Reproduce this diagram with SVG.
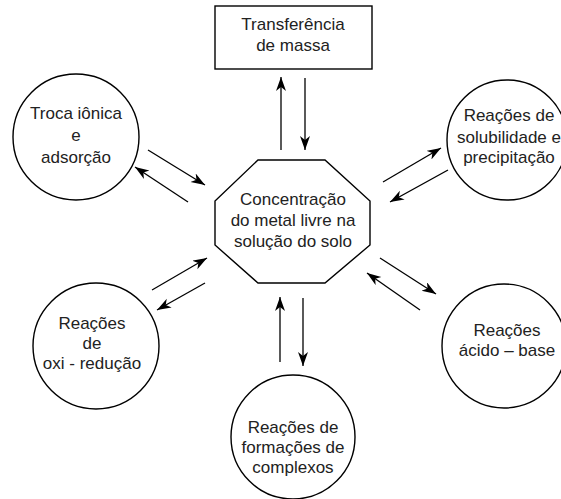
<svg xmlns="http://www.w3.org/2000/svg" width="561" height="499" viewBox="0 0 561 499">
<defs>
<style>
.shape{fill:#fff;stroke:#000;stroke-width:1.4}
.lbl{font-family:"Liberation Sans",Arial,sans-serif;font-size:17px;fill:#222;text-anchor:middle}
.conn line{stroke:#000;stroke-width:1.3;marker-end:url(#ah)}
</style>
<marker id="ah" markerUnits="userSpaceOnUse" markerWidth="15" markerHeight="11" refX="14" refY="5" orient="auto" viewBox="0 0 15 11">
<path d="M0,0 L14,5 L0,10 L4,5 z" fill="#000"/>
</marker>
</defs>
<rect width="561" height="499" fill="#fff"/>
<g id="massa">
<rect class="shape" x="215" y="6" width="157" height="63"/>
<text class="lbl" x="293" y="30">Transferência</text>
<text class="lbl" x="293" y="51">de massa</text>
</g>
<g id="troca">
<circle class="shape" cx="76" cy="137" r="63"/>
<text class="lbl" x="76" y="119">Troca iônica</text>
<text class="lbl" x="76" y="141">e</text>
<text class="lbl" x="76" y="163">adsorção</text>
</g>
<g id="centro">
<polygon class="shape" points="258,160 325,160 370,201 370,245 325,283 258,283 215,245 215,201"/>
<text class="lbl" x="293" y="205">Concentração</text>
<text class="lbl" x="293" y="226">do metal livre na</text>
<text class="lbl" x="293" y="247">solução do solo</text>
</g>
<g id="solubilidade">
<circle class="shape" cx="507" cy="140" r="60"/>
<text class="lbl" x="509" y="121">Reações de</text>
<text class="lbl" x="509" y="143">solubilidade e</text>
<text class="lbl" x="509" y="163">precipitação</text>
</g>
<g id="oxirreducao">
<circle class="shape" cx="96" cy="346" r="63"/>
<text class="lbl" x="92" y="329">Reações</text>
<text class="lbl" x="92" y="349">de</text>
<text class="lbl" x="92" y="369">oxi - redução</text>
</g>
<g id="acidobase">
<circle class="shape" cx="504" cy="346" r="62"/>
<text class="lbl" x="507" y="336">Reações</text>
<text class="lbl" x="507" y="356">ácido – base</text>
</g>
<g id="complexos">
<circle class="shape" cx="293" cy="437" r="62"/>
<text class="lbl" x="293" y="433">Reações de</text>
<text class="lbl" x="293" y="453">formações de</text>
<text class="lbl" x="293" y="473">complexos</text>
</g>
<g class="conn" id="connectors">
<line x1="281" y1="150" x2="281" y2="77"/>
<line x1="305" y1="78" x2="305" y2="150"/>
<line x1="148" y1="150" x2="205" y2="185"/>
<line x1="188" y1="202" x2="135" y2="167"/>
<line x1="383" y1="182" x2="441" y2="148"/>
<line x1="448" y1="170" x2="390" y2="202"/>
<line x1="152" y1="290" x2="207" y2="258"/>
<line x1="205" y1="283" x2="157" y2="310"/>
<line x1="380" y1="258" x2="436" y2="294"/>
<line x1="420" y1="310" x2="367" y2="273"/>
<line x1="280" y1="362" x2="280" y2="297"/>
<line x1="303" y1="298" x2="303" y2="366"/>
</g>
</svg>
